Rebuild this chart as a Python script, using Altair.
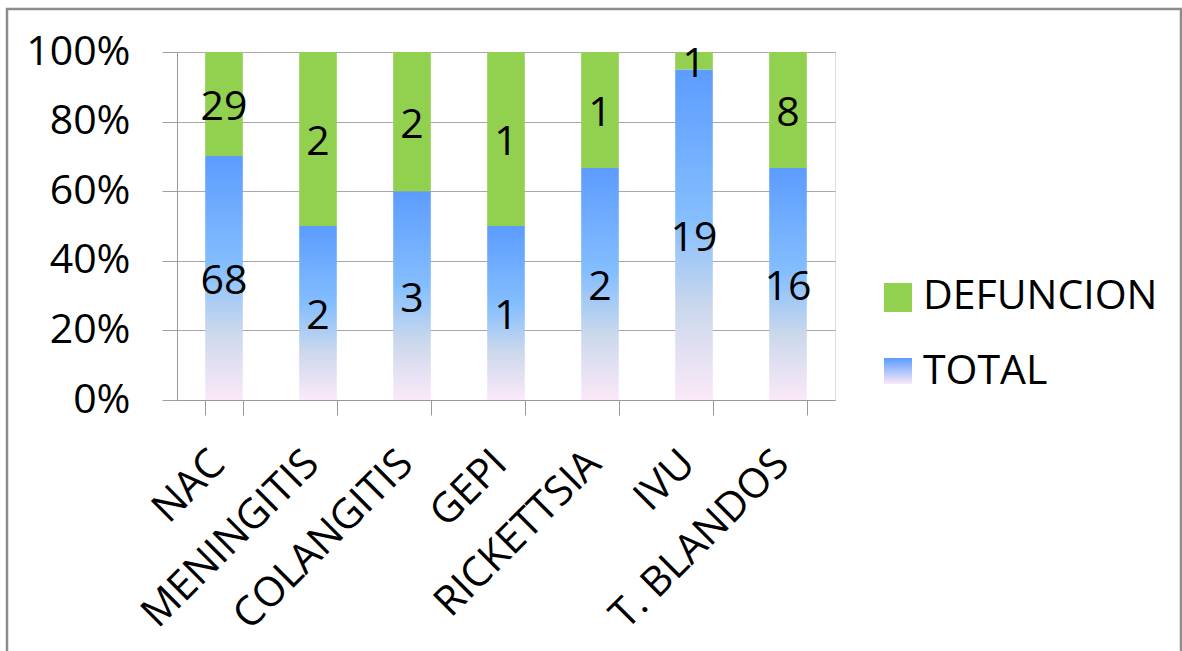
import altair as alt
import pandas as pd

# Diagnósticos y conteos por serie
categorias = ["NAC", "MENINGITIS", "COLANGITIS", "GEPI", "RICKETTSIA", "IVU", "T. BLANDOS"]
total = [68, 2, 3, 1, 2, 19, 16]
defuncion = [29, 2, 2, 1, 1, 1, 8]
series = ["TOTAL", "DEFUNCION"]

rows = []
for i, c in enumerate(categorias):
    rows.append({"cat": c, "serie": "TOTAL", "orden": 0, "valor": total[i]})
    rows.append({"cat": c, "serie": "DEFUNCION", "orden": 1, "valor": defuncion[i]})
df = pd.DataFrame(rows)

FONT = "Open Sans"
VERDE = "#92D050"
degradado = alt.Gradient(
    gradient="linear",
    x1=0, x2=0, y1=1, y2=0,
    stops=[
        alt.GradientStop(color="#FBE9F8", offset=0),
        alt.GradientStop(color="#CBD8EC", offset=0.28),
        alt.GradientStop(color="#84BEFE", offset=0.55),
        alt.GradientStop(color="#5C9CFF", offset=1),
    ],
)

W, H = 658, 348

base = alt.Chart(df).transform_stack(
    stack="valor",
    groupby=["cat"],
    sort=[alt.SortField("orden", order="ascending")],
    as_=["y0", "y1"],
    offset="normalize",
).transform_calculate(ymid="(datum.y0 + datum.y1) / 2")

x_enc = alt.X(
    "cat:N",
    sort=categorias,
    title=None,
    scale=alt.Scale(paddingInner=0.6, paddingOuter=0.3),
    axis=alt.Axis(
        tickBand="extent",
        tickSize=15,
        tickColor="#999999",
        domainColor="#999999",
        labelAngle=-45,
        labelAlign="right",
        labelBaseline="top",
        labelFont=FONT,
        labelFontSize=41,
        labelColor="#000000",
        labelPadding=28,
        labelOffset=-20,
        labelLimit=0,
        grid=False,
    ),
)
y_enc = alt.Y(
    "y0:Q",
    title=None,
    scale=alt.Scale(domain=[0, 1]),
    axis=alt.Axis(
        values=[0, 0.2, 0.4, 0.6, 0.8, 1.0],
        format="%",
        tickSize=15,
        tickColor="#A0A0A0",
        domainColor="#999999",
        gridColor="#A8A8A8",
        labelFont=FONT,
        labelFontSize=41,
        labelColor="#000000",
        labelPadding=32,
    ),
)

barras_total = base.transform_filter(alt.datum.serie == "TOTAL").mark_bar(
    color=degradado
).encode(x=x_enc, y=y_enc, y2="y1:Q")
barras_def = base.transform_filter(alt.datum.serie == "DEFUNCION").mark_bar(
    color=VERDE
).encode(x=x_enc, y=y_enc, y2="y1:Q")

etiquetas = base.mark_text(font=FONT, fontSize=41, color="#000000", baseline="middle", dy=4).encode(
    x=alt.X("cat:N", sort=categorias),
    y=alt.Y("ymid:Q"),
    text="valor:Q",
)

# Leyenda
leyenda_df = pd.DataFrame({"serie": ["DEFUNCION", "TOTAL"]})
ley_def = alt.Chart(leyenda_df).transform_filter(alt.datum.serie == "DEFUNCION").mark_rect(
    color=VERDE
).encode(x=alt.value(707), x2=alt.value(735), y=alt.value(231), y2=alt.value(260))
ley_tot = alt.Chart(leyenda_df).transform_filter(alt.datum.serie == "TOTAL").mark_rect(
    color=alt.Gradient(
        gradient="linear", x1=0, x2=0, y1=1, y2=0,
        stops=[
            alt.GradientStop(color="#FBE9F8", offset=0),
            alt.GradientStop(color="#5C9CFF", offset=1),
        ],
    )
).encode(x=alt.value(707), x2=alt.value(735), y=alt.value(306), y2=alt.value(332))
ley_txt_def = alt.Chart(leyenda_df).transform_filter(alt.datum.serie == "DEFUNCION").mark_text(
    font=FONT, fontSize=41, align="left", baseline="middle", color="#000000"
).encode(x=alt.value(746), y=alt.value(245), text="serie:N")
ley_txt_tot = alt.Chart(leyenda_df).transform_filter(alt.datum.serie == "TOTAL").mark_text(
    font=FONT, fontSize=41, align="left", baseline="middle", color="#000000"
).encode(x=alt.value(746), y=alt.value(320), text="serie:N")

marco = alt.Chart(leyenda_df.head(1)).mark_rect(
    fillOpacity=0, stroke="#8C8C8C", strokeWidth=2.5
).encode(x=alt.value(-170), x2=alt.value(1004), y=alt.value(-43), y2=alt.value(640))

chart = alt.layer(
    barras_total, barras_def, etiquetas, ley_def, ley_tot, ley_txt_def, ley_txt_tot, marco
).properties(
    width=W,
    height=H,
    autosize=alt.AutoSizeParams(type="none"),
    padding={"left": 177, "top": 52, "right": 1182 - 177 - W, "bottom": 651 - 52 - H},
).configure_view(stroke=None).configure(background="#FFFFFF")

chart.save("out.html", embed_options={"renderer": "svg", "actions": False})
